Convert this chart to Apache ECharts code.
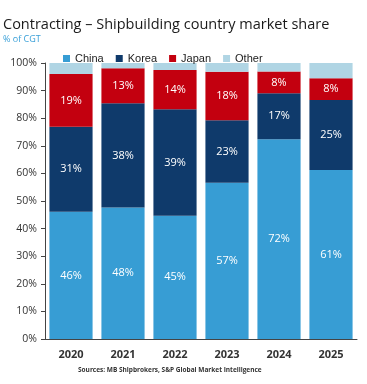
<!DOCTYPE html>
<html><head><meta charset="utf-8">
<script src="https://cdn.jsdelivr.net/npm/echarts@6/dist/echarts.min.js"></script>
<style>html,body{margin:0;padding:0;background:#fff}#c{width:367px;height:384px}</style>
</head><body><div id="c"></div>
<script>
var years = ['2020','2021','2022','2023','2024','2025'];
var china = [46.1, 47.6, 44.7, 56.6, 72.4, 61.2];
var korea = [30.8, 37.8, 38.5, 22.7, 16.6, 25.4];
var japan = [19.1, 12.7, 14.3, 17.5, 7.9, 7.9];
var other = [4.0, 1.9, 2.5, 3.2, 3.1, 5.5];
var yTicks = [0,10,20,30,40,50,60,70,80,90,100];

var chart = echarts.init(document.getElementById('c'));
function lbl(){
  return {show:true, position:'inside', color:'#ffffff', fontFamily:'Open Sans', fontSize:11,
    formatter:function(p){return Math.round(p.value)+'%';}};
}
chart.setOption({
  animation:false,
  title:[
    {text:'Contracting – Shipbuilding country market share', left:-2, top:12,
     textStyle:{fontFamily:'Open Sans', fontSize:14.5, fontWeight:'normal', color:'#1a1a1a'}},
    {text:'% of CGT', left:-2, top:30,
     textStyle:{fontFamily:'Open Sans', fontSize:9, fontWeight:'normal', color:'#3aa0d8'}},
    {text:'Sources: MB Shipbrokers, S&P Global Market Intelligence', left:73, top:362,
     textStyle:{fontFamily:'Open Sans', fontSize:6.5, fontWeight:'bold', color:'#333'}}
  ],
  legend:{top:48, left:58, itemWidth:7, itemHeight:7, itemGap:12,
    textStyle:{fontFamily:'Liberation Sans', fontSize:11, color:'#222'},
    data:['China','Korea','Japan','Other'], icon:'rect'},
  grid:{left:45, right:10, top:63, bottom:45},
  xAxis:{type:'category', data:years,
    axisLine:{lineStyle:{color:'#444'}}, axisTick:{show:false},
    axisLabel:{fontFamily:'Open Sans', fontSize:11, fontWeight:'bold', color:'#333', margin:10}},
  yAxis:{type:'value', min:0, max:100, interval:10,
    axisLine:{show:true, lineStyle:{color:'#444'}}, axisTick:{show:true, length:4, lineStyle:{color:'#444'}},
    splitLine:{show:false},
    axisLabel:{fontFamily:'Open Sans', fontSize:10.5, color:'#333', margin:8,
      formatter:function(v){return yTicks.indexOf(v)>=0 ? v+'%' : '';}}},
  series:[
    {name:'China', type:'bar', stack:'s', data:china, barCategoryGap:'17%', itemStyle:{color:'#379dd4'}, label:lbl()},
    {name:'Korea', type:'bar', stack:'s', data:korea, itemStyle:{color:'#0f3a6b'}, label:lbl()},
    {name:'Japan', type:'bar', stack:'s', data:japan, itemStyle:{color:'#c3000f'}, label:lbl()},
    {name:'Other', type:'bar', stack:'s', data:other, itemStyle:{color:'#b0d5e4'}, label:{show:false}}
  ]
});
</script></body></html>
